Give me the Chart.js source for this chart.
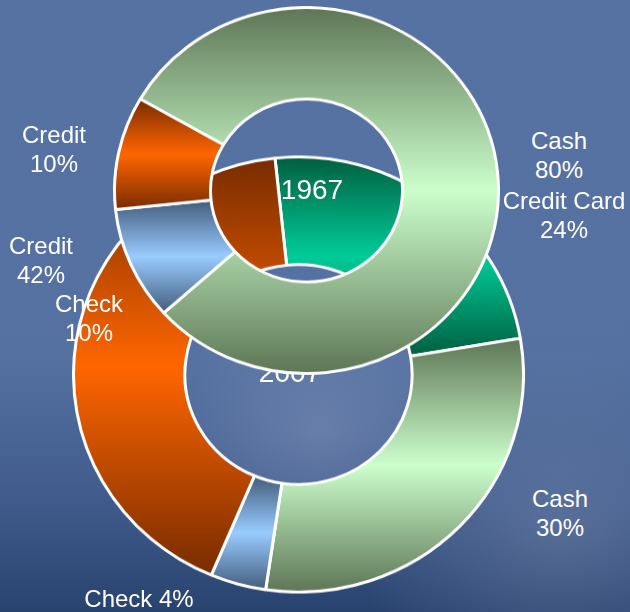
<!DOCTYPE html>
<html>
<head>
<meta charset="utf-8">
<script src="https://cdn.jsdelivr.net/npm/chart.js"></script>
<style>
  body { margin: 0; }
  #stage {
    position: relative; width: 630px; height: 612px; overflow: hidden;
    font-family: "Liberation Sans", Arial, sans-serif; color: #fff;
    background:
      radial-gradient(ellipse 170px 130px at 320px 430px, rgba(140,155,195,0.45), rgba(140,155,195,0) 100%),
      radial-gradient(ellipse 210px 180px at 560px 530px, rgba(140,155,190,0.35), rgba(140,155,190,0) 100%),
      linear-gradient(to bottom, #5572a3 0%, #5471a1 58%, #405b8b 82%, #29436f 100%);
  }
  canvas { position: absolute; transform-origin: 50% 50%; }
  .lbl { position: absolute; font-size: 24px; line-height: 29px; text-align: center; white-space: nowrap; transform: translateX(-50%); }
  .year { position: absolute; font-size: 28px; line-height: 32px; transform: translateX(-50%); }
</style>
</head>
<body>
<div id="stage">
  <canvas id="chart2007" width="453" height="453" style="left:72px;top:148px;transform:scaleY(0.967)"></canvas>
  <div class="year" id="y2007" style="left:290px;top:357px"></div>
  <canvas id="chart1967" width="387" height="387" style="left:113px;top:-3px;transform:scaleY(0.953)"></canvas>
  <div class="year" id="y1967" style="left:312px;top:174px"></div>
</div>
<script>
'use strict';
// data
var years = ['1967', '2007'];
var labels1967 = ['Cash', 'Check', 'Credit'];
var share1967 = [80, 10, 10];
var labels2007 = ['Credit Card', 'Cash', 'Check', 'Credit'];
var share2007 = [24, 30, 4, 42];

// dark edge / light middle of each reflected gradient
var shades = {
  'Cash': ['#5e7656', '#ccffcc'],
  'Check': ['#435c7c', '#99ccff'],
  'Credit': ['#782c00', '#ff6600'],
  'Credit Card': ['#005f3f', '#00cc99']
};

// label placement: [year index, slice index, center x, first line center y, one line?]
var labelSpots = [
  [0, 2, 54, 134, false],
  [0, 0, 559, 140, false],
  [1, 0, 564, 200, false],
  [1, 3, 41, 245, false],
  [0, 1, 89, 303, false],
  [1, 1, 560, 498, false],
  [1, 2, 139, 598, true]
];

// vertical gradient per slice, dark at top and bottom, light in the middle
var reflectGradient = {
  id: 'reflectGradient',
  beforeDatasetsDraw: function(chart) {
    var ctx = chart.ctx;
    var names = chart.data.labels;
    var meta = chart.getDatasetMeta(0);
    meta.data.forEach(function(arc, i) {
      var p = arc.getProps(['x', 'y', 'startAngle', 'endAngle', 'innerRadius', 'outerRadius']);
      var top = Infinity, bottom = -Infinity;
      for (var k = 0; k <= 90; k++) {
        var a = p.startAngle + (p.endAngle - p.startAngle) * k / 90;
        [p.innerRadius, p.outerRadius].forEach(function(r) {
          var y = p.y + r * Math.sin(a);
          if (y < top) top = y;
          if (y > bottom) bottom = y;
        });
      }
      var c = shades[names[i]];
      var g = ctx.createLinearGradient(0, top, 0, bottom);
      g.addColorStop(0, c[0]);
      g.addColorStop(0.5, c[1]);
      g.addColorStop(1, c[0]);
      arc.options = Object.assign({}, arc.options, {backgroundColor: g});
    });
  }
};

function makeDoughnut(id, labels, values, rotation, cutout) {
  var place = document.getElementById(id).getContext('2d');
  return new Chart(place, {
    type: 'doughnut',
    data: {
      labels: labels,
      datasets: [{
        data: values,
        backgroundColor: '#888888',
        borderColor: '#ffffff',
        borderWidth: 3,
        hoverOffset: 0,
        offset: 0
      }]
    },
    options: {
      responsive: false,
      maintainAspectRatio: false,
      animation: false,
      events: [],
      rotation: rotation,
      cutout: cutout,
      layout: { padding: 0 },
      plugins: { legend: { display: false }, tooltip: { enabled: false } }
    },
    plugins: [reflectGradient]
  });
}

makeDoughnut('chart2007', labels2007, share2007, -6, '50.5%');
makeDoughnut('chart1967', labels1967, share1967, -60, '50%');

document.getElementById('y1967').textContent = years[0];
document.getElementById('y2007').textContent = years[1];

// slice labels
var stage = document.getElementById('stage');
labelSpots.forEach(function(s) {
  var names = s[0] === 0 ? labels1967 : labels2007;
  var vals = s[0] === 0 ? share1967 : share2007;
  var div = document.createElement('div');
  div.className = 'lbl';
  div.style.left = s[2] + 'px';
  div.style.top = (s[3] - 14) + 'px';
  if (s[4]) {
    div.textContent = names[s[1]] + ' ' + vals[s[1]] + '%';
  } else {
    div.innerHTML = names[s[1]] + '<br>' + vals[s[1]] + '%';
  }
  stage.appendChild(div);
});
</script>
</body>
</html>
